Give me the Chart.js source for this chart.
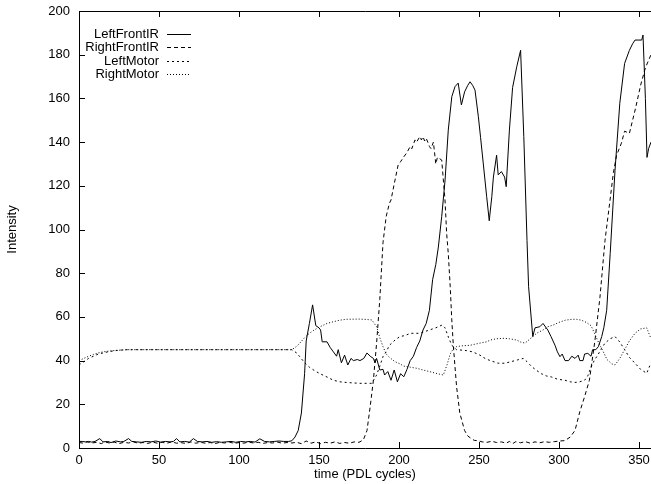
<!DOCTYPE html>
<html>
<head>
<meta charset="utf-8">
<script src="https://cdn.jsdelivr.net/npm/chart.js@4/dist/chart.umd.min.js"></script>
<style>
  html, body { margin: 0; padding: 0; background: #fff; overflow: hidden; }
  #wrap { width: 651px; height: 484px; }
</style>
</head>
<body>
<div id="wrap"><canvas id="chart" width="651" height="484"></canvas></div>
<script>
'use strict';

// axis ticks
const X_TICKS = [0, 50, 100, 150, 200, 250, 300, 350];
const Y_TICKS = [0, 20, 40, 60, 80, 100, 120, 140, 160, 180, 200];

// series, [time, intensity]
const leftFrontIR = [
  [0, 3], [2, 3], [4, 2.8], [6, 3], [8, 2.7], [10, 3], [13, 4.3], [15, 2.8], [18, 3], [20, 2.5],
  [23, 3.2], [26, 2.8], [28, 3], [31, 4.3], [33, 3], [36, 2.8], [39, 2.6], [42, 3], [45, 2.8],
  [48, 3.2], [51, 2.7], [54, 3], [57, 2.8], [59, 3], [61, 4.3], [63, 2.8], [66, 3], [69, 2.7],
  [71.5, 4.3], [74, 3], [77, 2.8], [80, 3], [83, 2.6], [86, 2.9], [89, 2.6], [92, 2.8], [95, 3],
  [98, 2.6], [101, 3], [104, 2.8], [107, 3], [110, 2.7], [113, 4.2], [116, 3], [119, 2.8],
  [122, 3], [125, 3.2], [128, 3], [131, 3], [133, 3.3], [135, 5], [137, 8], [139, 16], [141, 34],
  [142, 49], [144, 57], [146, 65.5], [148, 56], [150, 55], [151, 54], [152, 48.6], [155, 48.6],
  [157, 46], [159, 44], [161, 42], [162, 45], [164, 39], [166, 42.5], [168, 38], [170, 41],
  [171.5, 40], [174, 40.5], [175.6, 40], [178, 41], [180, 43.5], [182, 42], [184, 41], [185, 39],
  [186, 41], [188, 35.7], [190, 36], [191, 33.4], [193, 35], [195, 31], [197, 35.7], [199, 30.3],
  [201, 34], [203, 32.6], [205, 36], [207, 40], [209, 42], [211, 46], [213, 49], [215, 54],
  [217, 57], [219, 63], [221, 77], [223, 84], [224.6, 92], [226.7, 106], [228.8, 122.7],
  [230.8, 145.5], [233, 160.8], [235, 165.4], [237, 167], [239, 157], [241, 163], [243, 166],
  [244.4, 167.6], [246, 166], [247.5, 163.8], [249.6, 151.6], [251, 142], [252.7, 130],
  [254.8, 115], [256.4, 104], [258, 115], [259, 124], [261, 134], [262, 125], [264, 126.5],
  [266, 124], [267, 119.6], [269, 145.5], [271, 165], [273.6, 174.5], [276, 182], [278, 142.5],
  [280, 95], [281, 73.8], [283.6, 51], [285, 55], [288, 55.5], [290, 57], [293, 54], [295, 51],
  [297.5, 47], [299, 44], [300.6, 41.8], [302, 43], [303.75, 40], [306, 40], [308, 42], [310, 41],
  [312, 42.5], [313, 40], [315, 40], [316, 43], [318, 43.3], [320, 42], [321, 45], [323, 45],
  [324.6, 46.4], [326.7, 51], [328, 55], [329.8, 63], [332, 89], [335, 127], [338, 157.8],
  [341, 176], [344, 182], [346, 185], [347.5, 186.7], [350, 186.7], [351.7, 186.7], [352.5, 189],
  [354, 160], [355, 133], [356, 137], [357.5, 140],
];

const rightFrontIR = [
  [0, 2.5], [3, 2.2], [5, 2.8], [8, 2.3], [11, 2.6], [14, 2], [16, 2.8], [19, 2.3], [22, 2.7],
  [25, 2], [28, 2.6], [31, 2.3], [34, 2.8], [37, 2.2], [40, 2.5], [43, 2.1], [46, 2.7], [49, 2.2],
  [52, 2.6], [55, 2.2], [58, 2.8], [61, 2.2], [64, 2.4], [67, 2.1], [70, 2.8], [73, 2.2], [76, 2.6],
  [79, 2.2], [82, 2.5], [85, 2], [88, 2.6], [91, 2.3], [94, 2.7], [97, 2.1], [100, 2.5], [103, 2.2],
  [106, 2.7], [109, 2.3], [112, 2.6], [115, 2.1], [118, 2.5], [121, 2.3], [124, 2.7], [127, 2.2],
  [130, 2.5], [133, 2.3], [136, 2.6], [139, 2], [142, 3.2], [145, 2.2], [148, 2.8], [151, 2],
  [154, 2.6], [157, 2.2], [160, 2.8], [163, 2.1], [166, 2.5], [169, 2.2], [172, 2.8], [175, 2.6],
  [177.7, 3.7], [180, 8], [182, 19], [184, 31], [186, 48], [188, 68], [190, 94], [192, 106],
  [194, 112], [195, 113.5], [197.5, 122.6], [199.6, 130], [201, 131], [202.7, 133], [204.8, 135],
  [207, 138], [208, 137], [210, 141], [211, 140], [213, 142.5], [214, 141], [215, 142.5],
  [216, 140.5], [217, 141.7], [218, 140], [219, 138], [220, 137], [221.5, 140], [223, 130],
  [224, 133], [225, 132.6], [226.7, 131.8], [228.75, 113.5], [229.8, 98], [230.8, 89], [232, 74],
  [233, 58.6], [234, 46.4], [236, 28], [238, 16], [241, 8], [243, 5.5], [245, 4.4], [247, 3.5],
  [249.6, 3.3], [252, 2.8], [255, 2.6], [258, 3.1], [261, 2.5], [264, 2.8], [267, 2.2], [269, 3],
  [271, 2], [273, 2.9], [276, 2.4], [279, 2.9], [282, 2.2], [285, 2.8], [288, 2.4], [291, 2.9],
  [294, 2.6], [297, 2.9], [300.6, 3.2], [303.75, 3.4], [307, 5], [310, 8], [313, 16.6],
  [316, 23.5], [319, 31], [322.5, 49.4], [325.6, 69], [328.75, 95], [331.9, 113.5], [334, 126],
  [336, 134], [339, 139.5], [341, 145], [344, 144], [348, 156], [351, 166], [354, 174],
  [357.5, 180],
];

const leftMotor = [
  [0, 38], [3, 39.5], [6, 41], [9, 42], [12, 43], [15, 43.5], [18, 44], [22, 44.5], [26, 44.8],
  [30, 45], [60, 45], [90, 45], [120, 45], [133, 45], [136, 43.5], [138, 41.8], [141, 39],
  [144, 37], [147, 35.5], [150.6, 34], [155, 32.5], [159, 31], [163, 30.3], [167, 30], [171, 29.8],
  [175.6, 29.6], [180, 29.6], [183, 29.6], [186, 33.4], [188, 37.5], [190, 41.8], [192, 44],
  [194, 47], [197.5, 49.4], [200.6, 51], [204, 51.5], [207, 52.5], [213, 52.5], [219, 54],
  [223, 55], [227, 56.3], [228.75, 55], [231, 50.5], [233, 47], [236, 45], [242, 44.6], [246, 44],
  [250.6, 42.5], [253.75, 41], [257, 40], [262, 38.8], [266, 38.8], [270, 39.5], [274, 40.3],
  [277.7, 41], [280, 39.5], [283, 37.2], [286, 35.5], [289, 34], [292, 33], [295.4, 32.5],
  [299, 31.5], [303.75, 31], [307, 30.3], [310, 30], [313, 30.3], [316, 31], [318, 33], [320, 37],
  [322, 40], [324.6, 43], [326.5, 45.5], [328.75, 48], [332, 50], [335, 51], [338, 48.5],
  [341, 45], [344, 41.5], [347.5, 38.8], [351, 36], [354.8, 34.2], [357.5, 39],
];

const rightMotor = [
  [0, 40], [3, 41], [6, 42], [9, 42.8], [12, 43.5], [15, 44], [18, 44.3], [22, 44.6], [26, 44.8],
  [30, 45], [60, 45], [90, 45], [120, 45], [133, 45], [136, 46.5], [138, 48], [141, 50.5],
  [144, 52.5], [147, 54], [150.6, 55.5], [155, 57], [159, 57.8], [163, 58.5], [167, 58.9],
  [175.6, 59], [180, 58.8], [183, 58.6], [186, 55.5], [188, 50.5], [190, 46.4], [192, 43],
  [194, 41.5], [197.5, 39.5], [200.6, 38.5], [203, 37.5], [207, 37], [211, 36.5], [215, 35.7],
  [219, 35], [223, 34.2], [227.7, 33.4], [230, 38], [232, 43], [234, 45.5], [236, 46.4],
  [240, 46.8], [244.4, 47], [248, 47.6], [250.6, 48], [254.8, 48.6], [257, 49.4], [261, 50],
  [265, 50.2], [269, 50], [273.6, 49.4], [276, 48.5], [278.75, 48], [282, 50], [286, 52.5],
  [290, 54], [293, 55.5], [296.5, 56.3], [300, 57.5], [304, 58.5], [308, 58.9], [311, 58.9],
  [314, 58.5], [317, 57.5], [320, 56], [322.5, 52], [324.6, 48.5], [327.7, 44], [330, 40.5],
  [333, 38.5], [335, 38], [338, 41], [341, 45], [344, 49], [347.5, 52.5], [351, 54.5],
  [354.8, 55], [357.5, 50],
];

const toPoints = (arr) => arr.map(([x, y]) => ({ x, y }));

// gnuplot-like frame: top/left/bottom border with inward ticks
const framePlugin = {
  id: 'frame',
  afterDatasetsDraw(chart) {
    const { ctx, chartArea: a, scales } = chart;
    const t = 6;
    ctx.save();
    ctx.strokeStyle = '#000';
    ctx.lineWidth = 1;
    ctx.beginPath();
    ctx.moveTo(chart.width, a.top + 0.5);
    ctx.lineTo(a.left + 0.5, a.top + 0.5);
    ctx.lineTo(a.left + 0.5, a.bottom + 0.5);
    ctx.lineTo(chart.width, a.bottom + 0.5);
    Y_TICKS.forEach((v) => {
      const y = Math.round(scales.y.getPixelForValue(v)) + 0.5;
      ctx.moveTo(a.left, y);
      ctx.lineTo(a.left + t, y);
    });
    X_TICKS.forEach((v) => {
      const x = Math.round(scales.x.getPixelForValue(v)) + 0.5;
      ctx.moveTo(x, a.bottom);
      ctx.lineTo(x, a.bottom - t);
      ctx.moveTo(x, a.top);
      ctx.lineTo(x, a.top + t);
    });
    ctx.stroke();

    // key, text right-aligned, line sample to the right
    ctx.font = '13px "Liberation Sans", Arial, sans-serif';
    ctx.fillStyle = '#000';
    ctx.textAlign = 'right';
    ctx.textBaseline = 'middle';
    chart.data.datasets.forEach((ds, i) => {
      const y = Math.round(33.5 + i * 13.5) + 0.5;
      ctx.fillText(ds.label, 159, y);
      ctx.save();
      ctx.strokeStyle = ds.borderColor;
      ctx.setLineDash(ds.borderDash || []);
      ctx.beginPath();
      ctx.moveTo(167, y);
      ctx.lineTo(191, y);
      ctx.stroke();
      ctx.restore();
    });
    ctx.restore();
  },
};

Chart.defaults.font.family = '"Liberation Sans", Arial, sans-serif';
Chart.defaults.font.size = 13;
Chart.defaults.color = '#000';

const lineStyle = (label, data, dash, color) => ({
  label,
  data: toPoints(data),
  borderColor: color,
  borderWidth: 1,
  borderDash: dash,
  pointRadius: 0,
  tension: 0,
  fill: false,
});

new Chart(document.getElementById('chart'), {
  type: 'line',
  data: {
    datasets: [
      lineStyle('LeftFrontIR', leftFrontIR, [], '#000'),
      lineStyle('RightFrontIR', rightFrontIR, [4, 3], '#000'),
      lineStyle('LeftMotor', leftMotor, [2, 3], '#000'),
      lineStyle('RightMotor', rightMotor, [1, 2], '#000'),
    ],
  },
  options: {
    responsive: false,
    animation: false,
    layout: { padding: { top: 11, right: 0, left: 0, bottom: 0 } },
    plugins: {
      legend: { display: false },
      tooltip: { enabled: false },
    },
    scales: {
      x: {
        type: 'linear',
        min: 0,
        max: 357.5,
        grid: { display: false, drawTicks: false },
        border: { display: false },
        ticks: { stepSize: 50, padding: 5, maxRotation: 0, autoSkip: false },
        afterBuildTicks: (s) => { s.ticks = X_TICKS.map((v) => ({ value: v })); },
        afterFit: (s) => { s.height = 36; s.paddingLeft = 0; s.paddingRight = 0; },
        title: { display: true, text: 'time (PDL cycles)', padding: { top: 0, bottom: 2 } },
      },
      y: {
        min: 0,
        max: 200,
        grid: { display: false, drawTicks: false },
        border: { display: false },
        ticks: { stepSize: 20, padding: 9 },
        afterBuildTicks: (s) => { s.ticks = Y_TICKS.map((v) => ({ value: v })); },
        afterFit: (s) => { s.width = 79; s.paddingTop = 0; s.paddingBottom = 0; },
        title: { display: true, text: 'Intensity', padding: { top: 5, bottom: 0 } },
      },
    },
  },
  plugins: [framePlugin],
});
</script>
</body>
</html>
